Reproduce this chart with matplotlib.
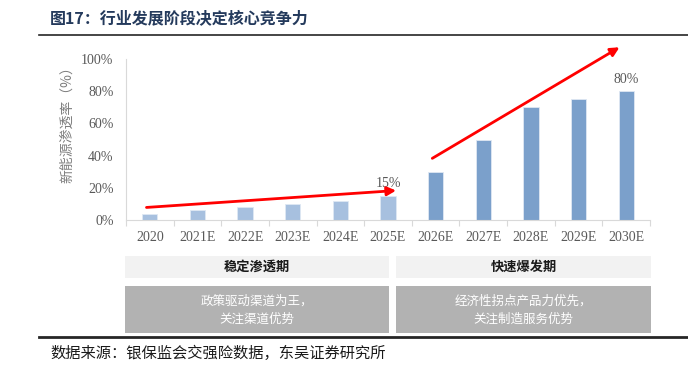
import numpy as np
import matplotlib
matplotlib.use("Agg")
import matplotlib.pyplot as plt
from matplotlib.patches import Rectangle
from matplotlib.lines import Line2D
from matplotlib.ticker import FuncFormatter, FixedLocator

plt.rcParams['font.family'] = ['Noto Sans CJK SC', 'DejaVu Sans']

# data
years = ['2020', '2021E', '2022E', '2023E', '2024E', '2025E',
         '2026E', '2027E', '2028E', '2029E', '2030E']
penetration = [3.5, 6, 8, 10, 12, 15, 30, 50, 70, 75, 80]
n_light = 6  # first stage bars drawn in the lighter blue
labelled = {'2025E': '15%', '2030E': '80%'}

title = '图17：行业发展阶段决定核心竞争力'
ylabel = '新能源渗透率（%）'
source = '数据来源：银保监会交强险数据，东吴证券研究所'
stage_names = ['稳定渗透期', '快速爆发期']
stage_notes = ['政策驱动渠道为王，\n关注渠道优势',
               '经济性拐点产品力优先，\n关注制造服务优势']

# trend arrows (start, end) in data units
arrows = [((-0.07, 7.8), (5.17, 18.3)),
          ((5.93, 38.3), (9.86, 107.3))]

W, H = 688, 367
fig = plt.figure(figsize=(W / 100, H / 100), dpi=100)


def fx(px):
    return px / W


def fy(py):
    return 1 - py / H


ax = fig.add_axes([fx(126), fy(220), fx(650) - fx(126), fy(59) - fy(220)])

x = np.arange(len(years))
colors = ['#a7c0df' if i < n_light else '#7ba0cb' for i in range(len(years))]
ax.bar(x, penetration, width=0.32, color=colors, edgecolor='#dfe8f3', linewidth=0.6)

for i, yr in enumerate(years):
    if yr in labelled:
        ax.annotate(labelled[yr], (x[i], penetration[i]), xytext=(0, 4),
                    textcoords='offset points', ha='center', va='bottom',
                    family='Liberation Serif', fontsize=10, color='#595959')

for (x0, y0), (x1, y1) in arrows:
    ax.annotate('', xy=(x1, y1), xytext=(x0, y0), annotation_clip=False,
                arrowprops=dict(arrowstyle='-|>', color='#ff0000', lw=2,
                                mutation_scale=13, shrinkA=0, shrinkB=0))

ax.set_xlim(-0.5, len(years) - 0.5)
ax.set_ylim(0, 100)
ax.set_xticks(x)
ax.set_xticklabels(years, family='Liberation Serif', fontsize=10, color='#595959')
ax.xaxis.set_minor_locator(FixedLocator(np.arange(-0.5, len(years), 1)))
ax.tick_params(axis='x', which='major', length=0, pad=8)
ax.tick_params(axis='x', which='minor', length=4, color='#d9d9d9', width=0.8)
ax.set_yticks(np.arange(0, 101, 20))
ax.yaxis.set_major_formatter(FuncFormatter(lambda v, p: f'{v:.0f}%'))
for lab in ax.get_yticklabels():
    lab.set_family('Liberation Serif')
ax.tick_params(axis='y', length=0, pad=9, labelsize=10, labelcolor='#595959')
for s in ['top', 'right']:
    ax.spines[s].set_visible(False)
for s in ['left', 'bottom']:
    ax.spines[s].set_color('#d9d9d9')
    ax.spines[s].set_linewidth(0.8)

fig.text(fx(67), fy(121), ylabel, rotation=90, ha='center', va='center',
         fontsize=10, color='#7f7f7f')

# title and rules
fig.text(fx(50), fy(19), title, ha='left', va='center', fontsize=11.5,
         fontweight='bold', color='#243a5c')
fig.add_artist(Line2D([fx(39), 1], [fy(35), fy(35)], color='#262626', lw=1.2))
fig.add_artist(Line2D([fx(39), 1], [fy(337), fy(337)], color='#262626', lw=2))
fig.text(fx(50), fy(353), source, ha='left', va='center', fontsize=11,
         color='#1a1a1a')

# stage boxes
box_x = [(125, 389), (396, 651)]
for (l, r), name, note in zip(box_x, stage_names, stage_notes):
    fig.add_artist(Rectangle((fx(l), fy(278)), fx(r) - fx(l), fy(256) - fy(278),
                             facecolor='#f2f2f2', edgecolor='none'))
    fig.add_artist(Rectangle((fx(l), fy(333)), fx(r) - fx(l), fy(286) - fy(333),
                             facecolor='#b2b2b2', edgecolor='none'))
    fig.text(fx((l + r) / 2), fy(267), name, ha='center', va='center',
             fontsize=9.5, fontweight='bold', color='#1a1a1a')
    fig.text(fx((l + r) / 2), fy(310), note, ha='center', va='center',
             fontsize=9, color='#ffffff', linespacing=1.45)

fig.savefig('out.png', dpi=100)
